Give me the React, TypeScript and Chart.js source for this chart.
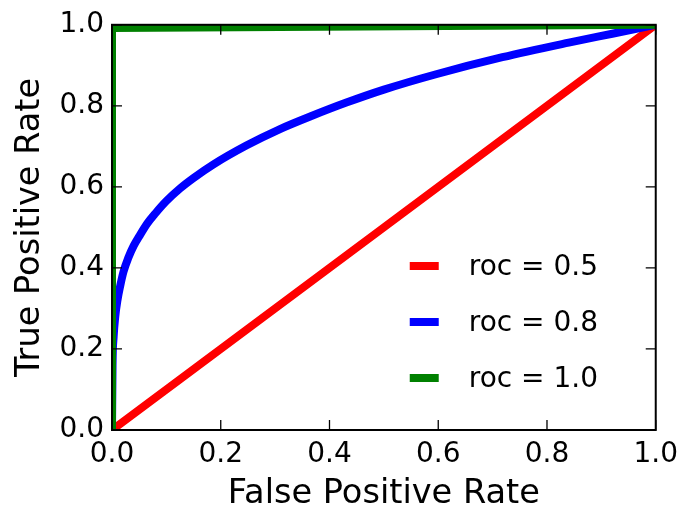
import React, { useEffect, useRef } from "react";
import { Chart, registerables } from "chart.js";

Chart.register(...registerables);

const tickValues = [0, 0.2, 0.4, 0.6, 0.8, 1.0];

const seriesLabels = ["roc = 0.5", "roc = 0.8", "roc = 1.0"];
const seriesColors = ["#ff0000", "#0000ff", "#008000"];

const redX = [0, 1];
const redY = [0, 1];

const blueX = [0, 0.001, 0.003, 0.006, 0.01, 0.015, 0.021, 0.03, 0.04, 0.05, 0.065, 0.08, 0.1, 0.125, 0.15, 0.186, 0.247, 0.308, 0.369, 0.431, 0.5, 0.596, 0.718, 0.84, 0.92, 1.0];
const blueY = [0, 0.16, 0.23, 0.28, 0.32, 0.355, 0.39, 0.425, 0.455, 0.478, 0.51, 0.535, 0.565, 0.596, 0.622, 0.655, 0.702, 0.742, 0.776, 0.808, 0.84, 0.878, 0.92, 0.956, 0.978, 1.0];

const greenX = [0, 0, 1];
const greenY = [0, 0.992, 1];

const FONT = "DejaVu Sans";

function toPoints(xs: number[], ys: number[]) {
  return xs.map((x, i) => ({ x, y: ys[i] }));
}

const framePlugin = {
  id: "frameTicks",
  afterDatasetsDraw(chart: any) {
    const { ctx, chartArea } = chart;
    const { left, right, top, bottom } = chartArea;
    const xs = chart.scales.x;
    const ys = chart.scales.y;
    const len = 10;
    ctx.save();
    ctx.strokeStyle = "#000";
    ctx.lineWidth = 1.3;
    ctx.beginPath();
    tickValues.forEach((v) => {
      const px = xs.getPixelForValue(v);
      ctx.moveTo(px, bottom);
      ctx.lineTo(px, bottom - len);
      ctx.moveTo(px, top);
      ctx.lineTo(px, top + len);
      const py = ys.getPixelForValue(v);
      ctx.moveTo(left, py);
      ctx.lineTo(left + len, py);
      ctx.moveTo(right, py);
      ctx.lineTo(right - len, py);
    });
    ctx.stroke();
    ctx.lineWidth = 2;
    ctx.strokeRect(left, top, right - left, bottom - top);
    ctx.restore();
  },
};

const legendPlugin = {
  id: "insideLegend",
  afterDraw(chart: any) {
    const { ctx, chartArea } = chart;
    const x0 = chartArea.right - 246;
    const y0 = chartArea.bottom - 164;
    ctx.save();
    ctx.font = `28px "${FONT}"`;
    ctx.textBaseline = "middle";
    ctx.textAlign = "left";
    chart.data.datasets.forEach((ds: any, i: number) => {
      const y = y0 + i * 56;
      ctx.strokeStyle = ds.borderColor;
      ctx.lineWidth = 8;
      ctx.lineCap = "butt";
      ctx.beginPath();
      ctx.moveTo(x0, y);
      ctx.lineTo(x0 + 29, y);
      ctx.stroke();
      ctx.fillStyle = "#000";
      ctx.fillText(ds.label, x0 + 59, y + 2);
    });
    ctx.restore();
  },
};

export default function App() {
  const ref = useRef<HTMLCanvasElement | null>(null);

  useEffect(() => {
    document.body.style.margin = "0";
    if (!ref.current) return;
    const mkDs = (i: number, xs: number[], ys: number[], order: number) => ({
      label: seriesLabels[i],
      data: toPoints(xs, ys),
      borderColor: seriesColors[i],
      backgroundColor: seriesColors[i],
      borderWidth: 8,
      pointRadius: 0,
      fill: false,
      tension: 0.4,
      cubicInterpolationMode: "monotone" as const,
      order,
    });
    const chart = new Chart(ref.current, {
      type: "line",
      data: {
        datasets: [
          mkDs(0, redX, redY, 3),
          mkDs(1, blueX, blueY, 2),
          { ...mkDs(2, greenX, greenY, 1), tension: 0, cubicInterpolationMode: "default" as const },
        ],
      },
      options: {
        animation: false,
        responsive: false,
        events: [],
        layout: { padding: { top: 20, right: 29, bottom: 0, left: 0 } },
        plugins: {
          legend: { display: false },
          tooltip: { enabled: false },
        },
        scales: {
          x: {
            type: "linear",
            min: 0,
            max: 1,
            afterFit: (s: any) => {
              s.height = 78;
            },
            afterBuildTicks: (s: any) => {
              s.ticks = tickValues.map((v) => ({ value: v }));
            },
            grid: { display: false, drawTicks: false },
            border: { display: false },
            ticks: {
              color: "#000",
              padding: 8,
              maxRotation: 0,
              font: { family: FONT, size: 28, lineHeight: 1.2 },
              callback: (v: any) => Number(v).toFixed(1),
            },
            title: {
              display: true,
              text: "False Positive Rate",
              color: "#000",
              font: { family: FONT, size: 33.6, lineHeight: 1 },
              padding: { top: 0, bottom: -3 },
            },
          },
          y: {
            type: "linear",
            min: 0,
            max: 1,
            afterFit: (s: any) => {
              s.width = 112;
            },
            afterBuildTicks: (s: any) => {
              s.ticks = tickValues.map((v) => ({ value: v }));
            },
            grid: { display: false, drawTicks: false },
            border: { display: false },
            ticks: {
              color: "#000",
              padding: 8,
              font: { family: FONT, size: 28, lineHeight: 1.2 },
              callback: (v: any) => Number(v).toFixed(1),
            },
            title: {
              display: true,
              text: "True Positive Rate",
              color: "#000",
              font: { family: FONT, size: 33.6, lineHeight: 1 },
              padding: { top: 13, bottom: 0 },
            },
          },
        },
      },
      plugins: [framePlugin, legendPlugin],
    });
    return () => chart.destroy();
  }, []);

  return (
    <div style={{ width: 686, height: 508 }}>
      <canvas ref={ref} width={686} height={508} style={{ display: "block" }} />
    </div>
  );
}
